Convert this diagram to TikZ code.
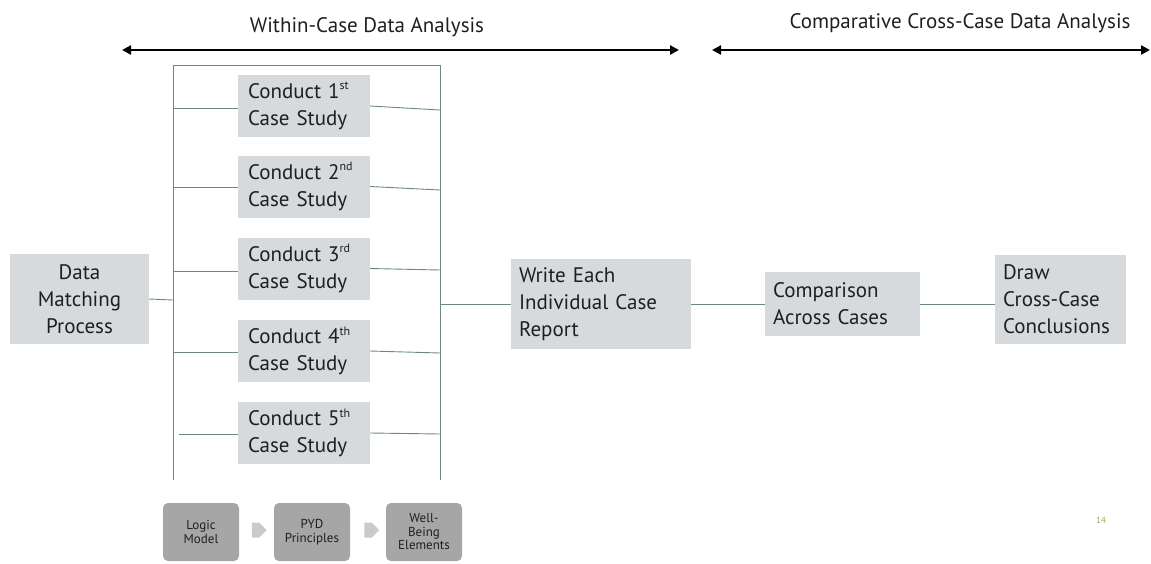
\documentclass[tikz,border=0pt]{standalone}
\usepackage{fontspec}
\setmainfont{PT Sans}
\usetikzlibrary{arrows.meta,shapes.arrows}
\definecolor{boxgray}{HTML}{D6DADC}
\definecolor{linegreen}{HTML}{6A8A7C}
\definecolor{darkbox}{HTML}{A6A6A6}
\definecolor{arrgray}{HTML}{C9CBC9}
\definecolor{pagegreen}{HTML}{8DBB5A}
\newcommand{\sups}[1]{\raisebox{0.42em}{\fontsize{12}{12}\selectfont #1}}
\begin{document}
\begin{tikzpicture}[x=1pt,y=-1pt,
  box/.style={fill=boxgray, inner xsep=10pt, inner ysep=0pt, align=left,
    font=\fontsize{21}{27}\selectfont, text=black!88},
  cbox/.style={box, text width=112pt, minimum height=62pt},
  link/.style={draw=linegreen, line width=0.9pt},
  span/.style={line width=2.4pt, {Triangle[length=9pt,width=9pt]}-{Triangle[length=9pt,width=9pt]}},
  stepbox/.style={fill=darkbox, rounded corners=5pt, minimum width=76pt, minimum height=58pt,
    align=center, inner sep=0pt, font=\fontsize{13}{13.5}\selectfont, text=black!88},
  steparrow/.style={single arrow, fill=arrgray, minimum height=15pt, minimum width=15pt,
    single arrow head extend=0pt, inner sep=0pt}]
\useasboundingbox (0,0) rectangle (1151,563);

% top spans
\coordinate (a1l) at (122,50); \coordinate (a1r) at (679,50);
\coordinate (a2l) at (712,50); \coordinate (a2r) at (1150,50);
\draw[span] (a1l) -- (a1r);
\draw[span] (a2l) -- (a2r);
\node[font=\fontsize{21}{24}\selectfont, text=black!88] (t1) at (367,27) {Within-Case Data Analysis};
\node[font=\fontsize{21}{24}\selectfont, text=black!88] (t2) at (960,23) {Comparative Cross-Case Data Analysis};

% nodes
\node[box, align=center, text width=119pt, minimum height=90pt] (dm) at (79.5,299) {Data\\Matching\\Process};
\node[cbox] (c1) at (304,106) {Conduct 1\sups{st}\\Case Study};
\node[cbox] (c2) at (304,186.5) {Conduct 2\sups{nd}\\Case Study};
\node[cbox] (c3) at (304,268.5) {Conduct 3\sups{rd}\\Case Study};
\node[cbox] (c4) at (304,351) {Conduct 4\sups{th}\\Case Study};
\node[cbox] (c5) at (304,433) {Conduct 5\sups{th}\\Case Study};
\node[box, inner xsep=8pt, text width=164pt, minimum height=90pt] (we) at (601,304) {Write Each\\Individual Case\\Report};
\node[box, inner xsep=8pt, text width=139pt, minimum height=64pt] (cmp) at (842.5,304) {Comparison\\Across Cases};
\node[box, inner xsep=8pt, text width=115pt, minimum height=89pt] (dr) at (1060.5,299.5) {Draw\\Cross-Case\\Conclusions};

% bus coordinates
\coordinate (lt) at (173,65); \coordinate (lb) at (173,480);
\coordinate (rt) at (440,65); \coordinate (rb) at (440,480);
\coordinate (lm) at (173,300); \coordinate (rm) at (440,304);
\coordinate (l1) at (173,108); \coordinate (r1) at (440,110);
\coordinate (l2) at (173,187); \coordinate (r2) at (440,190);
\coordinate (l3) at (173,271); \coordinate (r3) at (440,270);
\coordinate (l4) at (173,352); \coordinate (r4) at (440,353);
\coordinate (l5) at (179,434); \coordinate (r5) at (440,434);

\draw[link] (lb) -- (lt) -- (rt) -- (rb);
\draw[link] (dm.east) -- (lm);
\draw[link] (l1) -- (c1.west |- l1); \draw[link] (c1.east) -- (r1);
\draw[link] (l2) -- (c2.west |- l2); \draw[link] (c2.east) -- (r2);
\draw[link] (l3) -- (c3.west |- l3); \draw[link] (c3.east) -- (r3);
\draw[link] (l4) -- (c4.west |- l4); \draw[link] (c4.east) -- (r4);
\draw[link] (l5) -- (c5.west |- l5); \draw[link] (c5.east) -- (r5);
\draw[link] (rm) -- (we.west |- rm);
\draw[link] (we.east) -- (cmp.west);
\draw[link] (cmp.east) -- (dr.west |- cmp.east);

% bottom process
\node[stepbox] (lm1) at (201,532) {Logic\\Model};
\node[stepbox] (pyd) at (312,532) {PYD\\Principles};
\node[stepbox] (wb) at (424,532) {Well-\\Being\\Elements};
\node[steparrow] (ar1) at (255.5,530) {};
\node[steparrow] (ar2) at (368,530) {};

\node[font=\fontsize{9}{10}\selectfont, text=pagegreen] (pg) at (1101,520) {14};
\end{tikzpicture}
\end{document}
